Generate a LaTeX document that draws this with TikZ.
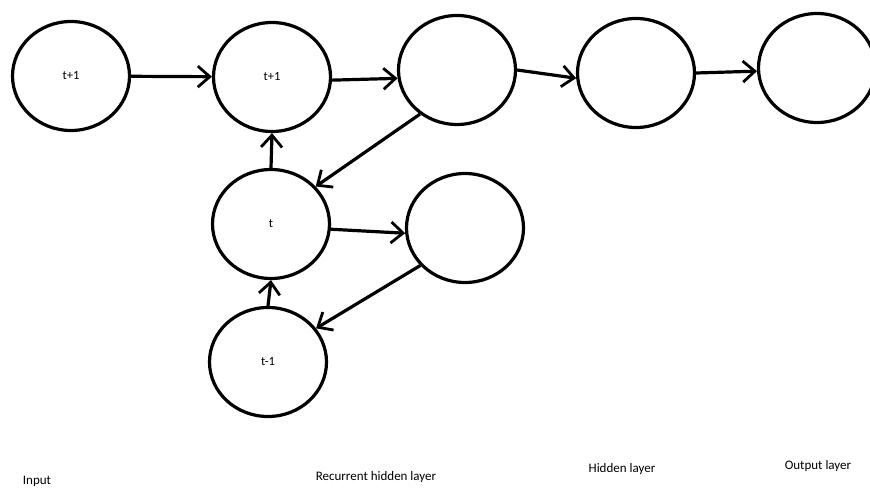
\documentclass[tikz,border=0pt]{standalone}
\usepackage{fontspec}
\setmainfont{Carlito}
\usetikzlibrary{shapes.geometric,arrows.meta}
\begin{document}
\begin{tikzpicture}[x=1pt,y=-1pt,
  neuron/.style={draw=black,line width=3.2pt,ellipse,minimum width=117pt,minimum height=109pt,inner sep=0pt,font=\fontsize{12.5}{14}\selectfont},
  conn/.style={line width=3.2pt,-{Straight Barb[length=12pt,width=21pt,line width=2.8pt]}},
  lbl/.style={font=\fontsize{13}{15}\selectfont,inner sep=0pt}]
\useasboundingbox (0,0) rectangle (870,489);
\clip (0,0) rectangle (870,489);
\fill[white] (0,0) rectangle (870,489);
\node[neuron] (A) at (71,76) {t+1};
\node[neuron] (B) at (272,77) {t+1};
\node[neuron] (C) at (457,70) {};
\node[neuron] (D) at (636,73) {};
\node[neuron] (E) at (817,68) {};
\node[neuron] (F) at (271,224) {t};
\node[neuron] (G) at (465,228) {};
\node[neuron] (H) at (268,362) {t-1};
\draw[conn] (A) -- (B);
\draw[conn] (B.-3) -- (C.188);
\draw[conn] (C.east) -- (D.185);
\draw[conn] (D.east) -- (E.183);
\draw[conn] (F.north) -- (B.south);
\draw[conn] (C.230) -- (F.40);
\draw[conn] (F.-5) -- (G.185);
\draw[conn] (H.north) -- (F.south);
\draw[conn] (G.220) -- (H.35);
\node[lbl] (l1) at (37,481) {Input};
\node[lbl] (l2) at (376,477) {Recurrent hidden layer};
\node[lbl] (l3) at (622,469) {Hidden layer};
\node[lbl] (l4) at (818,466) {Output layer};
\end{tikzpicture}
\end{document}
